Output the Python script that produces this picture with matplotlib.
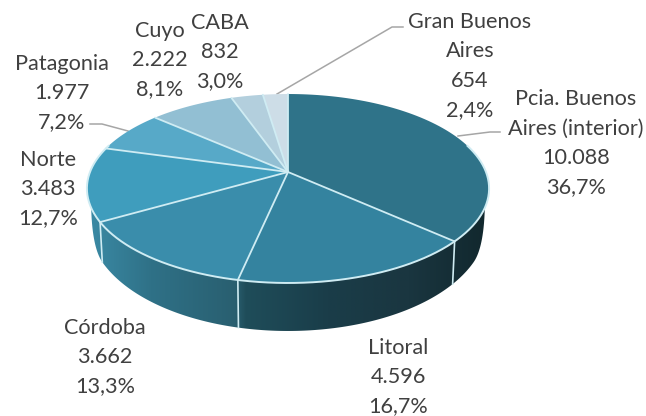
import numpy as np
import matplotlib
matplotlib.use('Agg')
from matplotlib import pyplot as plt
from matplotlib.colors import LinearSegmentedColormap
from matplotlib.patches import Polygon

# clockwise from 12 o'clock
regions = ['Pcia. Buenos\nAires (interior)', 'Litoral', 'Córdoba', 'Norte', 'Patagonia', 'Cuyo', 'CABA', 'Gran Buenos\nAires']
values = [10088, 4596, 3662, 3483, 1977, 2222, 832, 654]
value_labels = ['10.088', '4.596', '3.662', '3.483', '1.977', '2.222', '832', '654']
pct_labels = ['36,7%', '16,7%', '13,3%', '12,7%', '7,2%', '8,1%', '3,0%', '2,4%']
slice_colors = ['#2f7389', '#34839f', '#3a8dab', '#3f9dbd', '#57a9c8', '#92bfd3', '#b3cfdd', '#cddde7']

label_xy = [(576, 143), (398, 377), (105, 357), (48, 189), (62, 93), (160, 60), (220, 52), (470, 66)]
leaders = [[(458, 136), (490, 132), (500, 132)],
           [(128, 131), (102, 124), (90, 124)],
           [(277, 94), (392, 27), (403, 27)]]

CX, CY = 288, 172
A, B, K = 198, 91.6, 0.1746


def rim(theta):
    # tilted circle, near side drawn bigger
    X, Y = np.sin(theta), -np.cos(theta)
    w = 1 - K * Y
    return CX + A * X / w, CY + B * Y / w


def wall_bottom(theta):
    x, y = rim(theta)
    Y = -np.cos(theta)
    t = np.clip((Y - 0.3) / 0.2, 0, 1)
    h = (32 + 16 * Y) * np.sqrt(1 - (1 - t) ** 2)
    return CX + (x - CX) * 0.988, y + h


fig = plt.figure(figsize=(6.46, 4.16), dpi=100)
ax = fig.add_axes([0, 0, 1, 1])
ax.set_xlim(0, 646)
ax.set_ylim(416, 0)
ax.axis('off')

edges = np.cumsum([0] + values) / sum(values) * 2 * np.pi

# side wall, dark towards the right
t_wall = np.linspace(np.arccos(0.3), 2 * np.pi - np.arccos(0.3), 300)
xt, yt = rim(t_wall)
xb, yb = wall_bottom(t_wall)
wall = Polygon(np.r_[np.c_[xt, yt], np.c_[xb, yb][::-1]], closed=True, fc='none', ec='none', transform=ax.transData)
ax.add_patch(wall)
wall_cmap = LinearSegmentedColormap.from_list('wall', [
    (0.0, '#3b8ba6'), (0.16, '#2f7187'), (0.37, '#295f70'), (0.395, '#1f4d5a'),
    (0.60, '#1a3d49'), (0.80, '#1a3640'), (1.0, '#11272d')])
grad = np.linspace(0, 1, 256).reshape(1, -1)
im = ax.imshow(grad, extent=(86, 490, 345, 190), cmap=wall_cmap, aspect='auto', zorder=1)
im.set_clip_path(wall)
ax.set_xlim(0, 646)
ax.set_ylim(416, 0)

# top face
for i in range(len(values)):
    t = np.linspace(edges[i], edges[i + 1], 80)
    x, y = rim(t)
    ax.add_patch(Polygon(np.r_[[(CX, CY)], np.c_[x, y]], closed=True, fc=slice_colors[i], ec='none', zorder=2))

line_col = '#cfecf3'
for e in edges[:-1]:
    x, y = rim(e)
    ax.plot([CX, x], [CY, y], color=line_col, lw=1.3, zorder=3, solid_capstyle='round')
    if -np.cos(e) > 0.3:
        x2, y2 = wall_bottom(e)
        ax.plot([x, x2], [y, y2], color=line_col, lw=1.2, zorder=3)

# bright front rim
t_front = np.linspace(np.arccos(0.3), 2 * np.pi - np.arccos(0.3), 200)
x, y = rim(t_front)
ax.plot(x, y, color=line_col, lw=1.4, zorder=3)

for pts in leaders:
    ax.plot(*zip(*pts), color='#a6a6a6', lw=1.1, zorder=1)

for name, val, pct, (lx, ly) in zip(regions, value_labels, pct_labels, label_xy):
    ax.text(lx, ly, f'{name}\n{val}\n{pct}', ha='center', va='center', ma='center',
            family='Lato', fontsize=15.6, color='#404040', linespacing=1.58, zorder=4)

fig.savefig('out.png', dpi=100)
